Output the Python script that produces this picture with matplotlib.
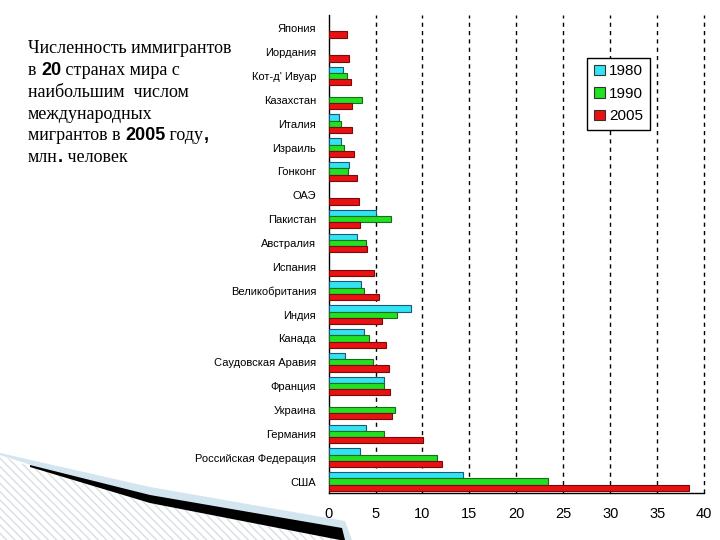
import matplotlib
matplotlib.use("Agg")
import matplotlib.pyplot as plt
import numpy as np
from matplotlib.patches import Patch, Polygon
from matplotlib.offsetbox import TextArea, HPacker, VPacker, AnchoredOffsetbox

countries = ["Япония", "Иордания", "Кот-д' Ивуар", "Казахстан", "Италия", "Израиль",
             "Гонконг", "ОАЭ", "Пакистан", "Австралия", "Испания", "Великобритания",
             "Индия", "Канада", "Саудовская Аравия", "Франция", "Украина", "Германия",
             "Российская Федерация", "США"]
v1980 = [None, None, 1.5, None, 1.1, 1.3, 2.2, None, 5.0, 3.0, None, 3.5, 8.8, 3.8, 1.8, 5.9, None, 4.0, 3.3, 14.3]
v1990 = [None, None, 2.0, 3.6, 1.3, 1.6, 2.1, None, 6.6, 4.0, None, 3.8, 7.3, 4.3, 4.7, 5.9, 7.1, 5.9, 11.5, 23.4]
v2005 = [2.0, 2.2, 2.4, 2.5, 2.5, 2.7, 3.0, 3.2, 3.3, 4.1, 4.8, 5.4, 5.7, 6.1, 6.4, 6.5, 6.8, 10.1, 12.1, 38.4]
series_labels = ["1980", "1990", "2005"]
xticks = [0, 5, 10, 15, 20, 25, 30, 35, 40]

fig = plt.figure(figsize=(7.2, 5.4), dpi=100)
fig.patch.set_facecolor("white")

# decorative swoosh (bottom-left)
def px(pts):
    return [(x / 720, 1 - y / 540) for x, y in pts]

hatch_poly = Polygon(px([(0, 455), (30, 467), (150, 503), (340, 540), (0, 540)]),
                     closed=True, transform=fig.transFigure, facecolor="white",
                     edgecolor="#D8DEE2", hatch="\\\\\\\\", linewidth=0, zorder=0)
fig.add_artist(hatch_poly)
blue_poly = Polygon(px([(0, 453), (150, 487), (345, 521), (352, 540), (340, 540), (150, 503), (0, 455)]),
                    closed=True, transform=fig.transFigure, facecolor="#D3E6EF",
                    edgecolor="none", zorder=0)
fig.add_artist(blue_poly)
black_poly = Polygon(px([(30, 465), (150, 495), (342, 528), (345, 540), (340, 540), (150, 503), (30, 467)]),
                     closed=True, transform=fig.transFigure, facecolor="black",
                     edgecolor="none", zorder=0)
fig.add_artist(black_poly)

ax = fig.add_axes([0.4563, 0.0870, 0.9782 - 0.4563, 0.9722 - 0.0870])
ax.set_facecolor("none")

y = np.arange(len(countries))
h = 0.26
colors = ["#33E3F3", "#22E022", "#E81212"]
edges = ["#1A5A78", "#157015", "#7A0A0A"]
for vals, off, c, e, lab in zip([v1980, v1990, v2005], [-h, 0, h], colors, edges, series_labels):
    arr = np.array([np.nan if v is None else v for v in vals], dtype=float)
    m = ~np.isnan(arr)
    ax.barh(y[m] + off, arr[m], height=h, color=c, edgecolor=e, linewidth=0.8, label=lab, zorder=3)

ax.set_xlim(0, 40)
ax.set_ylim(19.48, -0.56)
ax.set_yticks(y)
ax.set_yticklabels(countries, fontsize=8, family="Liberation Sans")
ax.set_xticks(xticks)
ax.set_xticklabels([str(t) for t in xticks], fontsize=10.5, family="Liberation Sans")
ax.tick_params(axis="both", length=0)
ax.tick_params(axis="y", pad=9)
ax.tick_params(axis="x", pad=10)
for xv in xticks[1:]:
    ax.axvline(xv, color="black", linestyle=(0, (3, 3)), linewidth=1.0, zorder=1, clip_on=False)
for s in ["top", "right"]:
    ax.spines[s].set_visible(False)
ax.spines["left"].set_linewidth(1.0)
ax.spines["bottom"].set_linewidth(1.0)

handles = [Patch(facecolor=c, edgecolor="#333333", linewidth=0.8) for c in colors]
leg = ax.legend(handles, series_labels, loc="upper left", bbox_to_anchor=(0.689, 0.911),
                fancybox=False, edgecolor="black", framealpha=1,
                handlelength=0.7, handleheight=0.7, handletextpad=0.25,
                labelspacing=0.55, borderpad=0.45, borderaxespad=0,
                prop={"family": "Liberation Sans", "size": 11})
leg.get_frame().set_linewidth(1.0)

# title block with mixed fonts
serif = dict(family="Liberation Serif", size=13, color="black")
bold = dict(family="Liberation Sans", size=13, weight="bold", color="black")
lines = [
    [("Численность иммигрантов", serif)],
    [("в ", serif), ("20", bold), (" странах мира с", serif)],
    [("наибольшим  числом", serif)],
    [("международных", serif)],
    [("мигрантов в ", serif), ("2005", bold), (" году", serif), (",", bold)],
    [("млн", serif), (".", bold), (" человек", serif)],
]
rows = []
for ln in lines:
    kids = [TextArea(t, textprops=p) for t, p in ln]
    rows.append(HPacker(children=kids, align="baseline", pad=0, sep=0))
block = VPacker(children=rows, align="left", pad=0, sep=3.5)
anch = AnchoredOffsetbox(loc="upper left", child=block, pad=0, borderpad=0, frameon=False,
                         bbox_to_anchor=(28 / 720, 1 - 40 / 540), bbox_transform=fig.transFigure)
fig.add_artist(anch)

fig.savefig("out.png", dpi=100)
